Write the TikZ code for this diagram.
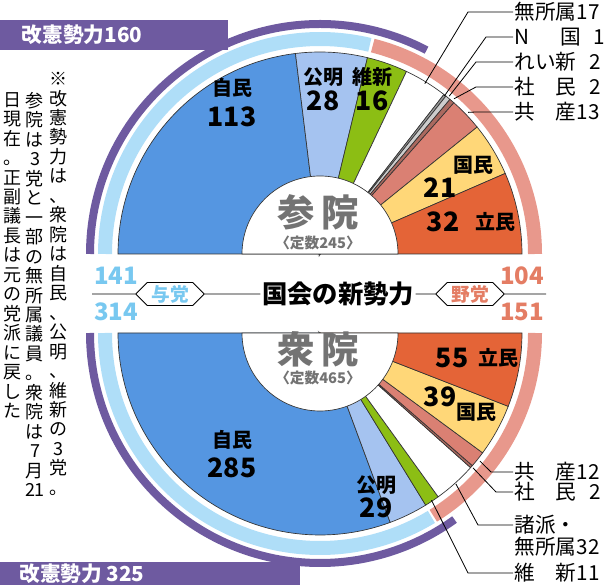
\documentclass[tikz,border=0pt]{standalone}
\usepackage{fontspec}
\setmainfont{Noto Sans CJK JP}
\usepackage{tikz}
\usetikzlibrary{positioning, calc, shapes.symbols}
\definecolor{kaiken}{RGB}{110, 90, 160}
\definecolor{yoto}{RGB}{175, 222, 248}
\definecolor{yato}{RGB}{232, 152, 140}
\definecolor{yotoTxt}{RGB}{120, 200, 240}
\definecolor{yatoTxt}{RGB}{228, 125, 100}
\definecolor{jimin}{RGB}{85, 150, 225}
\definecolor{komei}{RGB}{165, 195, 240}
\definecolor{ishin}{RGB}{140, 190, 20}
\definecolor{mushozoku}{RGB}{255, 255, 255}
\definecolor{nkoku}{RGB}{150, 150, 150}
\definecolor{reiwa}{RGB}{205, 205, 205}
\definecolor{shamin}{RGB}{170, 105, 95}
\definecolor{kyosan}{RGB}{218, 128, 115}
\definecolor{kokumin}{RGB}{255, 215, 120}
\definecolor{rikken}{RGB}{228, 100, 55}
\definecolor{inGray}{RGB}{115, 115, 115}
% vertical note text
\def\tateend{\tateend}
\def\tateendmark{\tateend}
\def\tateaux#1{\def\tatetmp{#1}\ifx\tatetmp\tateendmark\else\hbox to 1em{\hss#1\hss}\expandafter\tateaux\fi}
\newcommand\tatechars[1]{\vbox{\baselineskip=14.6pt\lineskiplimit=-10pt\tateaux#1\tateend}}
\tikzset{
    base/.style={
        font=\bfseries,
        align=center,
        inner sep=1pt
    },
    slice/.style={
        draw=black!80,
        line width=0.5pt
    },
    ring/.style={
        line width=10.5pt
    },
    kaikenring/.style={
        line width=6pt,
        draw=kaiken
    },
    party/.style={
        base,
        font=\bfseries\fontsize{15}{16}\selectfont
    },
    seats/.style={
        base,
        font=\bfseries\fontsize{20}{21}\selectfont
    },
    side/.style={
        base,
        anchor=west,
        font=\fontsize{15.5}{16}\selectfont
    },
    leader/.style={
        draw=black,
        line width=0.6pt
    },
    camp/.style={
        base,
        shape=signal,
        signal to=west and east,
        draw=black,
        line width=0.6pt,
        fill=white,
        font=\bfseries\fontsize{14}{15}\selectfont,
        inner xsep=3pt,
        inner ysep=2pt
    },
    total/.style={
        base,
        font=\bfseries\fontsize{18}{19}\selectfont
    },
    note/.style={
        anchor=north,
        inner sep=0pt,
        font=\fontsize{13.5}{14.6}\selectfont
    }
}

\begin{document}
\begin{tikzpicture}[x=0.75pt, y=0.75pt]
  \useasboundingbox (0,0) rectangle (610,585);
  \coordinate (up) at (320,331);
  \coordinate (lo) at (320,252);

  % Kaiken bars
  \fill[kaiken] (0,535) rectangle (228,565);
  \fill[kaiken] (0,0) rectangle (300,23);
  \node[base, text=white, font=\bfseries\fontsize{15.5}{16}\selectfont] (kaikenUp) at (82,550) {改憲勢力160};
  \node[base, text=white, font=\bfseries\fontsize{15.5}{16}\selectfont] (kaikenLo) at (82,11) {改憲勢力 325};

  % Upper house
  \foreach \n/\col [remember=\e as \s (initially 0), evaluate=\n as \e using \s+\n] in
      {113/jimin, 28/komei, 16/ishin, 17/mushozoku, 1/nkoku, 2/reiwa, 2/shamin, 13/kyosan, 21/kokumin, 32/rikken}
    \filldraw[slice, fill=\col] (up) -- ++({180-0.734694*\s}:202) arc[start angle={180-0.734694*\s}, end angle={180-0.734694*\e}, radius=202] -- cycle;
  \draw[ring, yoto] (up) ++(180:215) arc[start angle=180, end angle=76.6, radius=215];
  \draw[ring, yato] (up) ++(75.8:215) arc[start angle=75.8, end angle=0, radius=215];
  \draw[kaikenring] (up) ++(180:230) arc[start angle=180, end angle=62.4, radius=230];
  \filldraw[fill=white, draw=black!80, line width=0.5pt] (up) ++(0:78) arc[start angle=0, end angle=180, radius=78] -- cycle;

  % Lower house
  \foreach \n/\col [remember=\e as \s (initially 0), evaluate=\n as \e using \s+\n] in
      {285/jimin, 29/komei, 11/ishin, 32/mushozoku, 2/shamin, 12/kyosan, 39/kokumin, 55/rikken}
    \filldraw[slice, fill=\col] (lo) -- ++({180+0.387097*\s}:202) arc[start angle={180+0.387097*\s}, end angle={180+0.387097*\e}, radius=202] -- cycle;
  \draw[ring, yoto] (lo) ++(180:215) arc[start angle=180, end angle=301.2, radius=215];
  \draw[ring, yato] (lo) ++(301.8:215) arc[start angle=301.8, end angle=360, radius=215];
  \draw[kaikenring] (lo) ++(180:230) arc[start angle=180, end angle=305.8, radius=230];
  \filldraw[fill=white, draw=black!80, line width=0.5pt] (lo) ++(180:78) arc[start angle=180, end angle=360, radius=78] -- cycle;

  % Slice labels
  \node[party] (jiminUp) at (232,497) {自民};
  \node[seats] (jiminUpN) at (232,468) {113};
  \node[party] (komeiUp) at (323,508) {公明};
  \node[seats] (komeiUpN) at (323,484) {28};
  \node[party] (ishinUp) at (372,508) {維新};
  \node[seats] (ishinUpN) at (372,484) {16};
  \node[party] (kokuminUp) at (473,420) {国民};
  \node[seats] (kokuminUpN) at (440,397) {21};
  \node[seats] (rikkenUpN) at (443,363) {32};
  \node[party] (rikkenUp) at (495,363) {立民};
  \node[seats] (rikkenLoN) at (452,227) {55};
  \node[party] (rikkenLo) at (498,227) {立民};
  \node[seats] (kokuminLoN) at (440,188) {39};
  \node[party] (kokuminLo) at (476,173) {国民};
  \node[party] (jiminLo) at (232,145) {自民};
  \node[seats] (jiminLoN) at (232,117) {285};
  \node[party] (komeiLo) at (376,100) {公明};
  \node[seats] (komeiLoN) at (376,77) {29};

  % House names
  \node[base, text=inGray, font=\bfseries\fontsize{28}{29}\selectfont] (sanin) at (318,373) {参\,院};
  \node[base, text=inGray, font=\bfseries\fontsize{11}{12}\selectfont] (saninTeisu) at (318,342) {〈定数245〉};
  \node[base, text=inGray, font=\bfseries\fontsize{28}{29}\selectfont] (shugin) at (318,236) {衆\,院};
  \node[base, text=inGray, font=\bfseries\fontsize{11}{12}\selectfont] (shuginTeisu) at (318,207) {〈定数465〉};

  % Middle band
  \node[base, font=\bfseries\fontsize{19}{20}\selectfont] (title) at (338,291) {国会の新勢力};
  \node[camp, text=yotoTxt] (yotoTag) at (170,291) {与党};
  \node[camp, text=yatoTxt] (yatoTag) at (470,291) {野党};
  \node[total, text=yotoTxt] (yotoUp) at (116,309) {141};
  \node[total, text=yotoTxt] (yotoLo) at (116,273) {314};
  \node[total, text=yatoTxt] (yatoUp) at (522,309) {104};
  \node[total, text=yatoTxt] (yatoLo) at (522,273) {151};
  \coordinate (yotoEnd) at (92,291);
  \coordinate (yatoEnd) at (546,291);
  \draw[leader] (yotoEnd) -- (yotoTag) -- (title);
  \draw[leader] (title) -- (yatoTag) -- (yatoEnd);

  % Small parties, upper
  \coordinate (pMushozoku) at ($(up)+(58.4:200)$);
  \coordinate (pNkoku) at ($(up)+(51.8:201)$);
  \coordinate (pReiwa) at ($(up)+(50.7:204)$);
  \coordinate (pShaminUp) at ($(up)+(49.2:205)$);
  \coordinate (pKyosanUp) at ($(up)+(43.7:205)$);
  \node[side] (lMushozoku) at (513,573) {無所属17};
  \node[side] (lNkoku) at (513,548) {N\hspace{1.5em}国\hspace{0.6em}1};
  \node[side] (lReiwa) at (513,523) {れい新\hspace{0.6em}2};
  \node[side] (lShaminUp) at (513,498) {社　民\hspace{0.6em}2};
  \node[side] (lKyosanUp) at (513,473) {共　産13};
  \draw[leader] (lMushozoku.west) -- ++(-45,0) -- (pMushozoku);
  \draw[leader] (lNkoku.west) -- ++(-27,0) -- (pNkoku);
  \draw[leader] (lReiwa.west) -- ++(-37,0) -- (pReiwa);
  \draw[leader] (lShaminUp.west) -- ++(-37,0) -- (pShaminUp);
  \draw[leader] (lKyosanUp.west) -- ++(-37,0) -- (pKyosanUp);

  % Small parties, lower
  \coordinate (pKyosanLo) at ($(lo)+(321.3:205)$);
  \coordinate (pShaminLo) at ($(lo)+(318.6:204)$);
  \coordinate (pShoha) at ($(lo)+(312:203)$);
  \coordinate (pIshinLo) at ($(lo)+(303.7:201)$);
  \node[side] (lKyosanLo) at (513,113) {共　産12};
  \node[side] (lShaminLo) at (513,93) {社　民\hspace{0.6em}2};
  \node[side] (lShoha) at (513,60) {諸派・};
  \node[side] (lShohaN) at (513,38) {無所属32};
  \node[side] (lIshinLo) at (513,12) {維　新11};
  \draw[leader] (lKyosanLo.west) -- ++(-22,0) -- (pKyosanLo);
  \draw[leader] (lShaminLo.west) -- ++(-17,0) -- (pShaminLo);
  \draw[leader] (lShoha.west) -- ++(-35,0) -- (pShoha);
  \draw[leader] (lIshinLo.west) -- ++(-45,0) -- (pIshinLo);

  % Note
  \node[note] (noteA) at (58,513) {\tatechars{※改憲勢力は、衆院は自民、公明、維新の3党。}};
  \node[note] (noteB) at (35,493) {\tatechars{参院は3党と一部の無所属議員。衆院は7月{21}}};
  \node[note] (noteC) at (12,493) {\tatechars{日現在。正副議長は元の党派に戻した}};
\end{tikzpicture}
\end{document}
